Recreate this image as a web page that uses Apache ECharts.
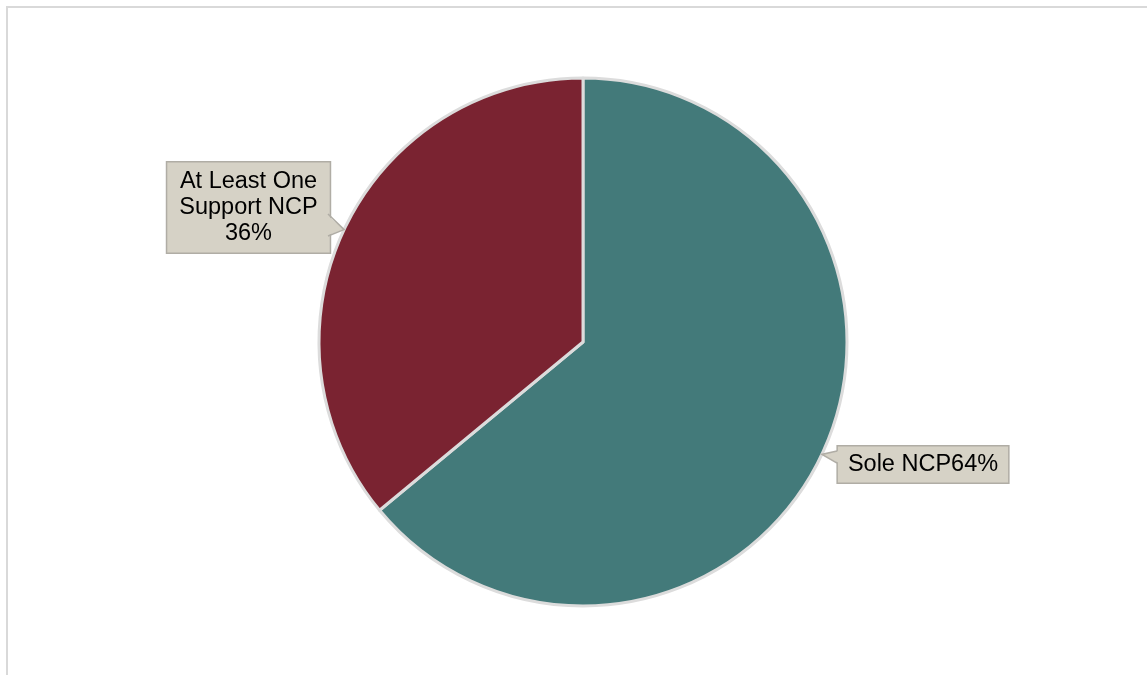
<!DOCTYPE html>
<html>
<head>
<meta charset="utf-8">
<style>
  html, body { margin: 0; padding: 0; background: #fff; }
  #frame { position: absolute; left: 6px; top: 6px; width: 1141px; height: 669px;
           border-left: 2px solid #d9d9d9; border-top: 2px solid #d9d9d9; box-sizing: border-box; }
  #chart { position: absolute; left: 0; top: 0; width: 1147px; height: 675px; }
</style>
<script src="https://cdn.jsdelivr.net/npm/echarts@6/dist/echarts.min.js"></script>
</head>
<body>
<div id="frame"></div>
<div id="chart"></div>
<script>
// Share of NCP arrangements
const categories = ['Sole NCP', 'At Least One\nSupport NCP'];
const values = [64, 36];
const sliceColors = ['#437a7a', '#7a2331'];
const labelTexts = ['Sole NCP64%', 'At Least One\nSupport NCP\n36%'];

// Layout constants
const CX = 583, CY = 342, R = 264;
const BOX_BG = '#d6d2c6', BOX_BORDER = '#b0ada5';
// label box centres, and the edge where each callout tail attaches
const labelPos = [
  { x: 923, y: 464.5, pad: [5, 10], tail: { side: 'left', x: 837, y0: 451, y1: 463 } },
  { x: 248.5, y: 207.5, pad: [6, 12], tail: { side: 'right', x: 328, y0: 214, y1: 236 } }
];

const total = values.reduce((a, b) => a + b, 0);

// Tail tip sits on the rim at each slice's mid-angle (clockwise from 12 o'clock)
function tipPoint(i) {
  let cum = 0;
  for (let k = 0; k < i; k++) cum += values[k];
  const frac = (cum + values[i] / 2) / total;
  const theta = (90 - 360 * frac) * Math.PI / 180;
  return [CX + R * Math.cos(theta), CY - R * Math.sin(theta)];
}

const tails = [];
values.forEach((v, i) => {
  const t = labelPos[i].tail;
  const tip = tipPoint(i);
  const inset = t.side === 'left' ? 2 : -2;
  tails.push({
    type: 'polygon', z: 100,
    shape: { points: [[t.x + inset, t.y0], tip, [t.x + inset, t.y1]] },
    style: { fill: BOX_BG, stroke: null }
  });
  tails.push({
    type: 'polyline', z: 101,
    shape: { points: [[t.x, t.y0], tip, [t.x, t.y1]] },
    style: { stroke: BOX_BORDER, lineWidth: 1.5, fill: null }
  });
});

const chart = echarts.init(document.getElementById('chart'), null, { renderer: 'canvas' });
chart.setOption({
  backgroundColor: 'transparent',
  animation: false,
  graphic: tails,
  series: [{
    type: 'pie',
    center: [CX, CY],
    radius: R,
    startAngle: 90,
    clockwise: true,
    data: categories.map((c, i) => ({
      name: c,
      value: values[i],
      itemStyle: { color: sliceColors[i] },
      label: { padding: labelPos[i].pad }
    })),
    itemStyle: { borderColor: '#dcdcdc', borderWidth: 3 },
    label: {
      show: true,
      position: 'outside',
      formatter: (p) => labelTexts[p.dataIndex],
      fontFamily: 'Liberation Sans, Arial, sans-serif',
      fontSize: 23.5,
      lineHeight: 26,
      color: '#000',
      align: 'center',
      backgroundColor: BOX_BG,
      borderColor: BOX_BORDER,
      borderWidth: 1.5
    },
    labelLine: { show: false },
    labelLayout: (p) => ({
      x: labelPos[p.dataIndex].x,
      y: labelPos[p.dataIndex].y,
      align: 'center',
      verticalAlign: 'middle'
    }),
    emphasis: { disabled: true }
  }]
});
</script>
</body>
</html>
